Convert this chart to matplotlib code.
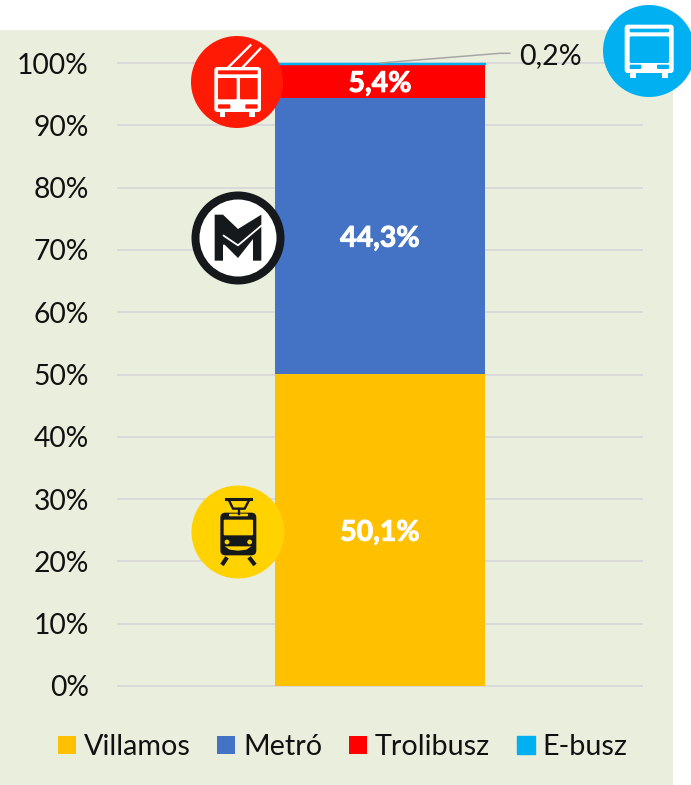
import matplotlib
matplotlib.use("Agg")
import matplotlib.pyplot as plt
import matplotlib.patheffects as pe
from matplotlib.patches import Circle, Rectangle, FancyBboxPatch, Polygon

plt.rcParams['font.family'] = ['Lato', 'DejaVu Sans']

categories = ['Összes']
series_names = ['Villamos', 'Metró', 'Trolibusz', 'E-busz']
series_values = [50.1, 44.3, 5.4, 0.2]
series_colors = ['#FFC000', '#4472C4', '#FF0000', '#00B0F0']
value_labels = ['50,1%', '44,3%', '5,4%', '0,2%']
y_ticks = [0, 10, 20, 30, 40, 50, 60, 70, 80, 90, 100]

W, H = 691, 785
fig = plt.figure(figsize=(W / 100, H / 100), dpi=100, facecolor='white')

# page background
bg = fig.add_axes([0, 0, 1, 1], zorder=0)
bg.set_xlim(0, W); bg.set_ylim(H, 0); bg.axis('off')
bg.add_patch(Rectangle((0, 30), 673, 755, fc='#EAEEDD', ec='none'))

# chart
L, R, T, B = 118, 642, 63, 686
ax = fig.add_axes([L / W, 1 - B / H, (R - L) / W, (B - T) / H], zorder=1)
ax.patch.set_alpha(0)
ax.set_xlim(-0.5, 0.5); ax.set_ylim(0, 100)
for s in ax.spines.values():
    s.set_visible(False)
ax.set_yticks(y_ticks)
ax.set_yticklabels([f'{t}%' for t in y_ticks], fontsize=20.3, color='#111111')
ax.set_xticks([])
ax.tick_params(axis='y', length=0, pad=21)
ax.grid(axis='y', color='#D9D9D9', lw=1.4, zorder=0, clip_on=False)
ax.set_axisbelow(True)

bottom = 0
handles = []
for name, val, col, lab in zip(series_names, series_values, series_colors, value_labels):
    thin = val < 1
    b = ax.bar(0, val, width=0.4, bottom=bottom, color=col, label=name, zorder=2,
               edgecolor=col if thin else 'none', linewidth=1.0 if thin else 0, clip_on=False)
    handles.append(b)
    if val > 1:
        ax.annotate(lab, xy=(0, bottom + val / 2), xytext=(0, -2), textcoords='offset points',
                    ha='center', va='center', color='white', fontsize=20.5, fontweight='bold',
                    zorder=3, path_effects=[pe.withStroke(linewidth=0.7, foreground='white')])
    bottom += val

# 0,2% label with leader
ax.annotate(value_labels[3], xy=(0, 100), xytext=(519, 56), textcoords=bg.transData,
            ha='left', va='center', fontsize=20.5, color='#111111', annotation_clip=False)

leg = fig.legend(handles=handles, labels=series_names, ncol=4, frameon=False,
                 loc='center left', bbox_to_anchor=(58 / W, 1 - 747 / H),
                 fontsize=20.7, handlelength=0.62, handleheight=0.62, borderpad=0, borderaxespad=0,
                 handletextpad=0.28, columnspacing=0.93, labelcolor='#111111')

# overlay
ov = fig.add_axes([0, 0, 1, 1], zorder=2)
ov.set_xlim(0, W); ov.set_ylim(H, 0); ov.axis('off'); ov.patch.set_alpha(0)
ov.plot([380, 500, 510], [63, 53.3, 53.3], color='#A6A6A6', lw=1.1, solid_capstyle='round')


def rrect(x0, y0, x1, y1, r, **kw):
    ov.add_patch(FancyBboxPatch((x0, y0), x1 - x0, y1 - y0,
                                boxstyle=f'round,pad=0,rounding_size={r}', **kw))


# trolleybus icon
cx, cy = 237, 82
ov.add_patch(Circle((cx, cy), 46, fc='#FF1A05', ec='none'))
def tz(x, y):
    return cx + (x - 200) / 3, cy + (y - 245) / 3
WHT = 'white'
ov.plot(*zip(tz(175, 200), tz(240, 135)), color=WHT, lw=1.7)
ov.plot(*zip(tz(218, 200), tz(270, 145)), color=WHT, lw=1.7)
x0, y0 = tz(132, 200); x1, y1 = tz(272, 335)
rrect(x0, y0, x1, y1, 3, fc=WHT, ec='none')
x0, y0 = tz(143, 233); x1, y1 = tz(199, 297)
rrect(x0, y0, x1, y1, 1, fc='#FF1A05', ec='none')
x0, y0 = tz(209, 233); x1, y1 = tz(262, 297)
rrect(x0, y0, x1, y1, 1, fc='#FF1A05', ec='none')
x0, y0 = tz(143, 210); x1, y1 = tz(262, 222)
rrect(x0, y0, x1, y1, 1, fc='#FF1A05', ec='none')
for a, b in [(143, 180), (225, 262)]:
    x0, y0 = tz(a, 312); x1, y1 = tz(b, 325)
    rrect(x0, y0, x1, y1, 1, fc='#FF1A05', ec='none')
for a in (148, 236):
    x0, y0 = tz(a, 335); x1, y1 = tz(a + 17, 350)
    ov.add_patch(Rectangle((x0, y0), x1 - x0, y1 - y0, fc=WHT, ec='none'))

# e-bus icon
cx, cy = 649, 51
BL = '#00B0F0'
ov.add_patch(Circle((cx, cy), 46, fc=BL, ec='none', clip_on=False))
def bz(x, y):
    return cx + (x - 1438) / 3, cy + (y - 154) / 3
x0, y0 = bz(1365, 75); x1, y1 = bz(1512, 220)
rrect(x0, y0, x1, y1, 3, fc=WHT, ec='none')
x0, y0 = bz(1380, 87); x1, y1 = bz(1498, 98)
rrect(x0, y0, x1, y1, 1, fc=BL, ec='none')
x0, y0 = bz(1380, 110); x1, y1 = bz(1498, 190)
rrect(x0, y0, x1, y1, 1.5, fc=BL, ec='none')
for a, b in [(1380, 1415), (1462, 1498)]:
    x0, y0 = bz(a, 195); x1, y1 = bz(b, 208)
    rrect(x0, y0, x1, y1, 1, fc=BL, ec='none')
for a in (1382, 1477):
    x0, y0 = bz(a, 220); x1, y1 = bz(a + 18, 235)
    ov.add_patch(Rectangle((x0, y0), x1 - x0, y1 - y0, fc=WHT, ec='none'))

# metro icon
cx, cy = 238, 238
DK = '#16191C'
ov.add_patch(Circle((cx, cy), 46.5, fc=DK, ec='none'))
ov.add_patch(Circle((cx, cy), 38.5, fc='white', ec='none'))
def mz(x, y):
    return cx + (x - 205) / 3, cy + (y - 175) / 3
m_pts = [(135, 243), (135, 105), (160, 105), (205, 148), (275, 105), (275, 243), (250, 243),
         (250, 178), (205, 235), (165, 195), (160, 195), (160, 243)]
ov.add_patch(Polygon([mz(*p) for p in m_pts], closed=True, fc=DK, ec='none'))
ov.plot(*zip(mz(162, 168), mz(205, 197), mz(275, 138)), color='white', lw=1.3)

# tram icon
cx, cy = 238, 532
YL = '#FFD200'
ov.add_patch(Circle((cx, cy), 46.5, fc=YL, ec='none'))
def yz(x, y):
    return cx + (x - 205) / 3, cy + (y - 155) / 3
ov.plot(*zip(yz(168, 57), yz(245, 57)), color=DK, lw=2.2)
ov.plot(*zip(yz(178, 60), yz(190, 85), yz(225, 85), yz(238, 60)), color=DK, lw=1.7)
ov.plot(*zip(yz(207, 85), yz(207, 100)), color=DK, lw=1.7)
x0, y0 = yz(152, 97); x1, y1 = yz(260, 225)
rrect(x0, y0, x1, y1, 5, fc=DK, ec='none')
x0, y0 = yz(162, 118); x1, y1 = yz(250, 165)
rrect(x0, y0, x1, y1, 1, fc=YL, ec='none')
x0, y0 = yz(178, 100); x1, y1 = yz(235, 108)
rrect(x0, y0, x1, y1, 1, fc=YL, ec='none')
for a in (172, 240):
    ov.add_patch(Circle(yz(a, 185), 2.4, fc=YL, ec='none'))
ov.add_patch(Polygon([yz(165, 198), yz(245, 198), yz(230, 208), yz(205, 211), yz(180, 208)],
                     closed=True, fc=YL, ec='none'))
ov.plot(*zip(yz(172, 231), yz(157, 254)), color=DK, lw=3, solid_capstyle='butt')
ov.plot(*zip(yz(238, 231), yz(256, 254)), color=DK, lw=3, solid_capstyle='butt')

fig.savefig('out.png', dpi=100)
